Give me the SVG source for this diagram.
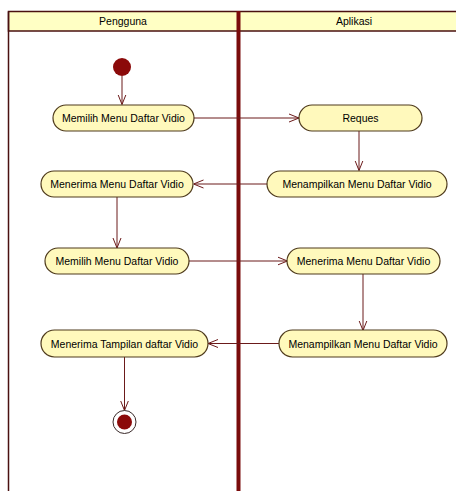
<svg xmlns="http://www.w3.org/2000/svg" width="456" height="491" viewBox="0 0 456 491">
  <style>
    .lane-head { fill: #ffffc4; stroke: #4a1010; stroke-width: 1.5; }
    .lane-line { stroke: #4a1010; stroke-width: 1.5; fill: none; }
    .divider { stroke: #7a0c0c; stroke-width: 4; }
    .head-text { font-family: "Liberation Sans", Arial, sans-serif; font-size: 10.5px; fill: #000; text-anchor: middle; }
    .action rect { fill: #fff9bc; stroke: #4e3a1c; stroke-width: 1.2; }
    .action text { font-family: "Liberation Sans", Arial, sans-serif; font-size: 10.5px; fill: #000; text-anchor: middle; }
    .flow { stroke: #6b1a1a; stroke-width: 1; fill: none; marker-end: url(#open-arrow); }
  </style>
  <defs>
    <marker id="open-arrow" viewBox="0 0 10 10" refX="10" refY="5" markerWidth="10" markerHeight="10" markerUnits="userSpaceOnUse" orient="auto">
      <path d="M0,1 L10,5 L0,9" fill="none" stroke="#6b1a1a" stroke-width="1"/>
    </marker>
  </defs>

  <rect width="456" height="491" fill="#ffffff"/>

  <!-- swimlanes -->
  <g id="lanes">
    <rect class="lane-head" x="8.5" y="11.5" width="460" height="19.5"/>
    <line class="lane-line" x1="8.5" y1="11.5" x2="8.5" y2="491"/>
    <line class="divider" x1="238.5" y1="11" x2="238.5" y2="491"/>
    <text class="head-text" x="123" y="25">Pengguna</text>
    <text class="head-text" x="354" y="25">Aplikasi</text>
  </g>

  <!-- control flow -->
  <g id="connectors">
    <line class="flow" x1="122" y1="76" x2="122" y2="104.5"/>
    <line class="flow" x1="194" y1="118" x2="299" y2="118"/>
    <line class="flow" x1="359" y1="131" x2="359" y2="170.5"/>
    <line class="flow" x1="267" y1="184" x2="193.5" y2="184"/>
    <line class="flow" x1="117" y1="197" x2="117" y2="248"/>
    <line class="flow" x1="189" y1="261" x2="287.5" y2="261"/>
    <line class="flow" x1="363" y1="274" x2="363" y2="330.5"/>
    <line class="flow" x1="279" y1="343.5" x2="208" y2="343.5"/>
    <line class="flow" x1="124.5" y1="357" x2="124.5" y2="410.5"/>
  </g>

  <g id="start">
    <circle cx="122" cy="67" r="9" fill="#8b0a0a"/>
  </g>

  <g id="pilih-menu-1" class="action">
    <rect x="53" y="105" width="141" height="26" rx="13"/>
    <text x="123.5" y="122">Memilih Menu Daftar Vidio</text>
  </g>

  <g id="reques" class="action">
    <rect x="299" y="105" width="123" height="26" rx="13"/>
    <text x="360.5" y="122">Reques</text>
  </g>

  <g id="tampil-menu-1" class="action">
    <rect x="267" y="171" width="180" height="26" rx="13"/>
    <text x="357" y="188">Menampilkan Menu Daftar Vidio</text>
  </g>

  <g id="terima-menu-1" class="action">
    <rect x="41" y="171" width="152" height="26" rx="13"/>
    <text x="117" y="188">Menerima Menu Daftar Vidio</text>
  </g>

  <g id="pilih-menu-2" class="action">
    <rect x="45" y="248" width="144" height="26" rx="13"/>
    <text x="117" y="265">Memilih Menu Daftar Vidio</text>
  </g>

  <g id="terima-menu-2" class="action">
    <rect x="287" y="248" width="153" height="26" rx="13"/>
    <text x="363.5" y="265">Menerima Menu Daftar Vidio</text>
  </g>

  <g id="tampil-menu-2" class="action">
    <rect x="279" y="330" width="168" height="27" rx="13.5"/>
    <text x="363" y="347.5">Menampilkan Menu Daftar Vidio</text>
  </g>

  <g id="terima-tampilan" class="action">
    <rect x="41" y="330" width="167" height="27" rx="13.5"/>
    <text x="124.5" y="347.5">Menerima Tampilan daftar Vidio</text>
  </g>

  <g id="end">
    <circle cx="124.5" cy="422" r="11.5" fill="#ffffff" stroke="#3a2a2a" stroke-width="1"/>
    <circle cx="124.5" cy="422" r="7.5" fill="#8b0a0a"/>
  </g>
</svg>
